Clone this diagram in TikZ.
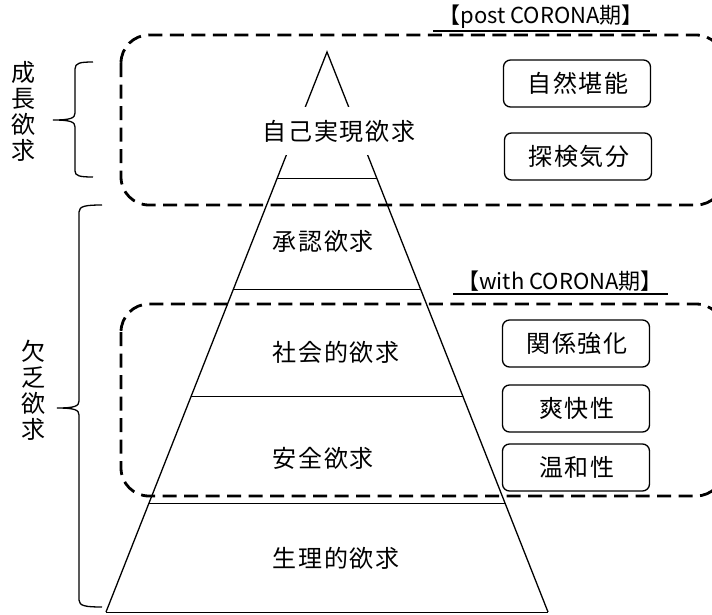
\documentclass[tikz,border=0pt]{standalone}
\usepackage{fontspec}
\setmainfont{Noto Sans CJK JP}
\newfontfamily\jpwide[LetterSpace=8]{Noto Sans CJK JP}
\usetikzlibrary{calc}
\tikzset{
  lvl/.style={font=\jpwide\fontsize{24}{28}\selectfont, inner sep=0pt, anchor=west},
  kbox/.style={draw, rounded corners=7pt, line width=1.3pt, minimum width=147pt, minimum height=47pt, inner sep=0pt, font=\jpwide\fontsize{24}{28}\selectfont},
  dbox/.style={dash pattern=on 14pt off 7.5pt, line width=2.8pt, rounded corners=28pt},
  side/.style={line width=1.3pt},
  sep/.style={line width=0.9pt},
  brc/.style={line width=1.3pt},
  vtxt/.style={align=center, inner sep=0pt, font=\fontsize{24}{26}\selectfont},
  tag/.style={inner sep=0pt, font=\fontsize{22}{24}\selectfont}
}
\begin{document}
\begin{tikzpicture}[x=1pt,y=-1pt]
\useasboundingbox (0,0) rectangle (712,614);
% dashed groups
\draw[dbox] (121,35) rectangle (724,205);
\draw[dbox] (121,304) rectangle (724,496);
% pyramid
\coordinate (apex) at (327,52);
\coordinate (bl) at (106,612);
\coordinate (br) at (548,612);
\draw[side] (bl) -- (apex) -- (br);
\draw[sep] (bl) -- (br);
\foreach \f/\n in {0.225/a,0.4232/b,0.6143/c,0.8054/d}{
  \draw[sep] ($(apex)!\f!(bl)$) coordinate (l\n) -- ($(apex)!\f!(br)$) coordinate (r\n);
}
\node[lvl, fill=white, minimum height=48pt, inner xsep=1pt] (top) at (261,131) {自己実現欲求};
\node[lvl] (n2) at (272,241) {承認欲求};
\node[lvl] (n3) at (272,352) {社会的欲求};
\node[lvl] (n4) at (272,458) {安全欲求};
\node[lvl] (n5) at (272,558) {生理的欲求};
% right boxes
\node[kbox] (k1) at (577,83.5) {\hspace{2pt}自然堪能};
\node[kbox] (k2) at (578,156.5) {\hspace{2pt}探検気分};
\node[kbox] (k3) at (576,343.5) {\hspace{2pt}関係強化};
\node[kbox] (k4) at (576,408.5) {\hspace{2pt}爽快性};
\node[kbox] (k5) at (576,467.5) {\hspace{2pt}温和性};
% tags
\node[tag] (t1) at (541,17) {【post CORONA期】};
\draw[line width=1.3pt] (433,31) -- (650,31);
\node[tag] (t2) at (560,281) {【with CORONA期】};
\draw[line width=1.3pt] (453,294) -- (668,294);
% braces
\draw[brc] (93,62) .. controls (80,62) and (75,63) .. (75,69) -- (75,113)
  .. controls (75,118) and (71,120) .. (53,120)
  .. controls (71,120) and (75,122) .. (75,127) -- (75,171)
  .. controls (75,176) and (80,177) .. (93,177);
\draw[brc] (102,205) .. controls (86,205) and (79,206) .. (79,212) -- (79,401)
  .. controls (79,406) and (75,408) .. (57,408)
  .. controls (75,408) and (79,410) .. (79,415) -- (79,600)
  .. controls (79,606) and (86,607) .. (102,607);
\node[vtxt] (g1) at (24,111) {成\\長\\欲\\求};
\node[vtxt] (g2) at (33,390) {欠\\乏\\欲\\求};
\end{tikzpicture}
\end{document}
